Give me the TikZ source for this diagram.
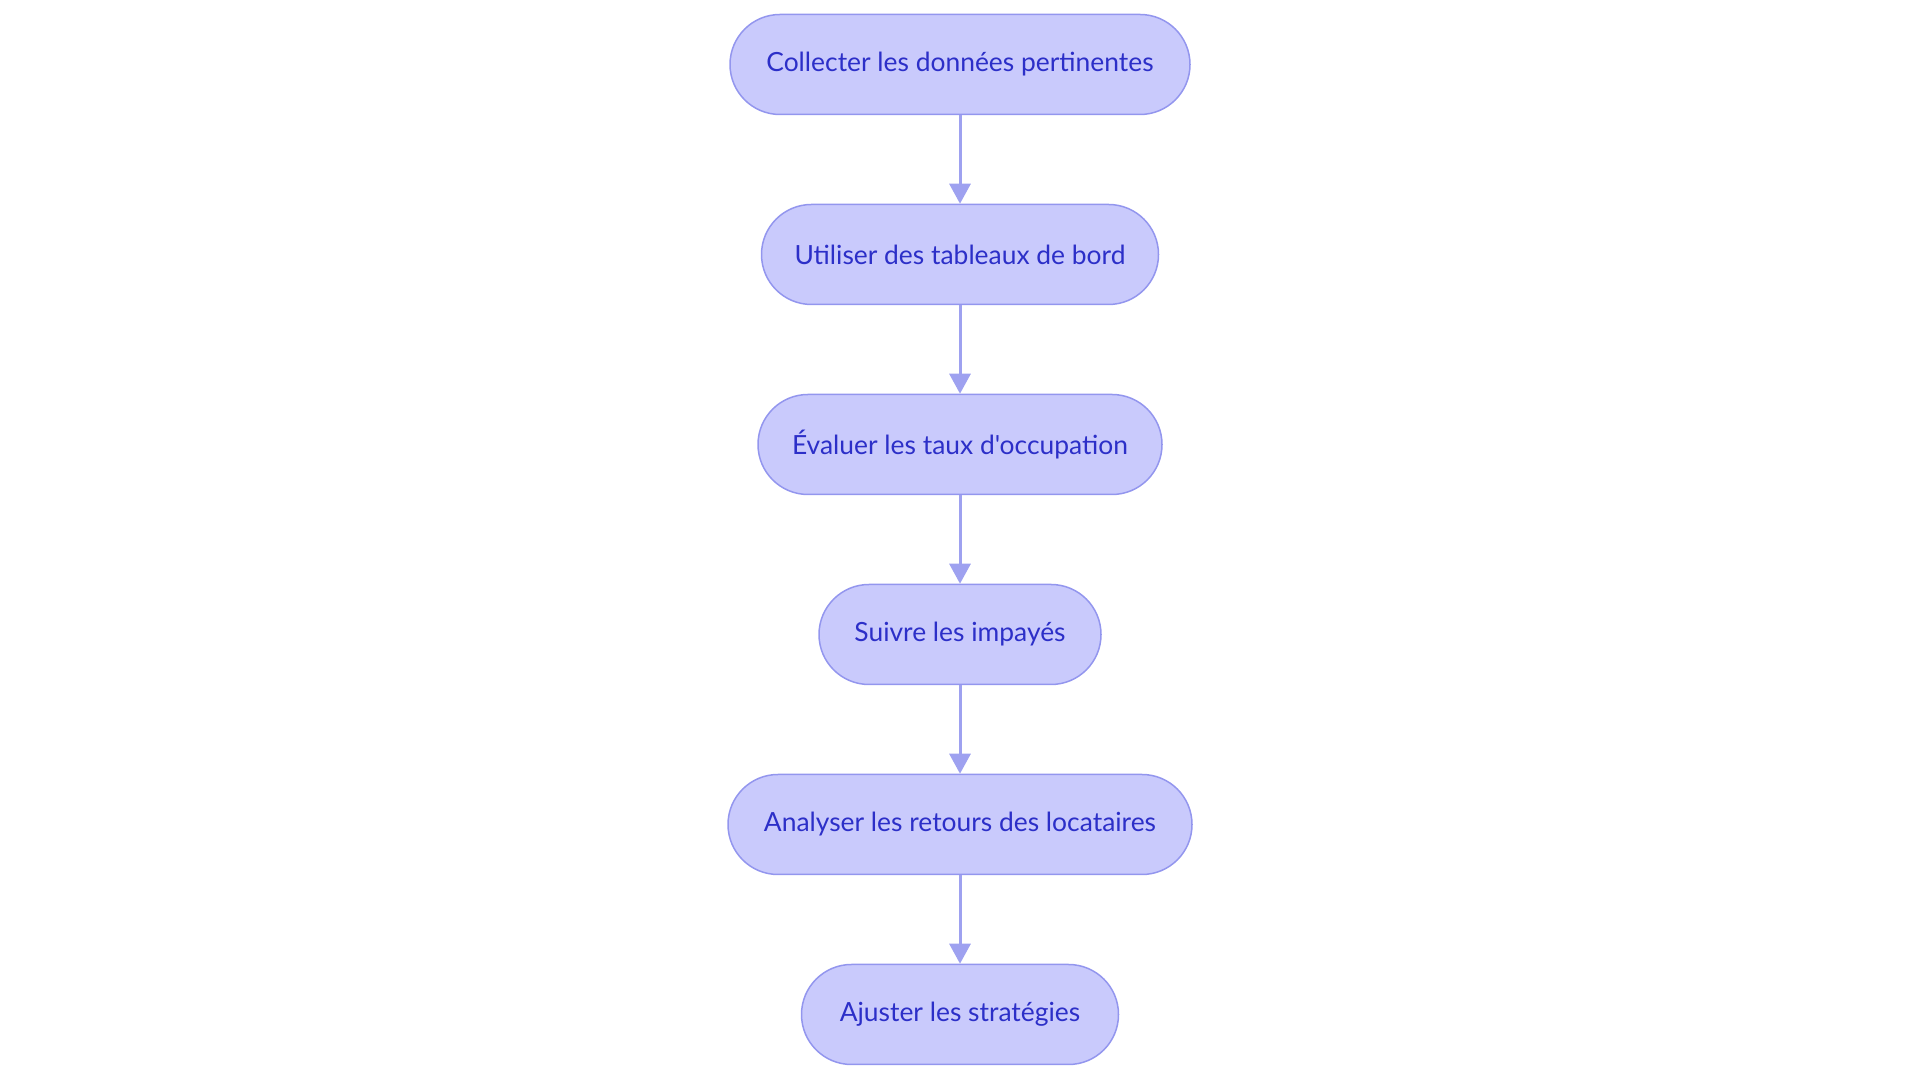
\documentclass[tikz,border=0pt]{standalone}
\usepackage{fontspec}
\newfontfamily\stepfont{Lato}
\usetikzlibrary{arrows.meta}
\definecolor{stepfill}{HTML}{C9CAFC}
\definecolor{stepline}{HTML}{9396EE}
\definecolor{steptext}{HTML}{2C2FC8}
\definecolor{flowline}{HTML}{9EA1F0}

\begin{document}
\begin{tikzpicture}[x=1pt, y=1pt,
				stepbox/.style={draw=stepline, fill=stepfill, text=steptext, line width=1.5pt, rounded corners=50pt, minimum height=100pt, inner xsep=30pt, font=\stepfont\fontsize{26.4}{30}\selectfont},
				flow/.style={-{Triangle[width=21pt, length=20pt]}, line width=3pt, color=flowline}
			]
			\useasboundingbox (0, 0) rectangle (1920, 1083);
			\node[stepbox, minimum width=460pt] (collect) at (960, 1018.5) {Collecter les données pertinentes};
			\node[stepbox, minimum width=397pt] (dash) at (960, 828.5) {Utiliser des tableaux de bord};
			\node[stepbox, minimum width=404pt] (occup) at (960, 638.5) {Évaluer les taux d'occupation};
			\node[stepbox, minimum width=282pt] (unpaid) at (960, 448.5) {Suivre les impayés};
			\node[stepbox, minimum width=464pt] (feedback) at (960, 258.5) {Analyser les retours des locataires};
			\node[stepbox, minimum width=317pt] (adjust) at (960, 68.5) {Ajuster les stratégies};

			\draw[flow] (collect) -- (dash);
			\draw[flow] (dash) -- (occup);
			\draw[flow] (occup) -- (unpaid);
			\draw[flow] (unpaid) -- (feedback);
			\draw[flow] (feedback) -- (adjust);
		\end{tikzpicture}
\end{document}
